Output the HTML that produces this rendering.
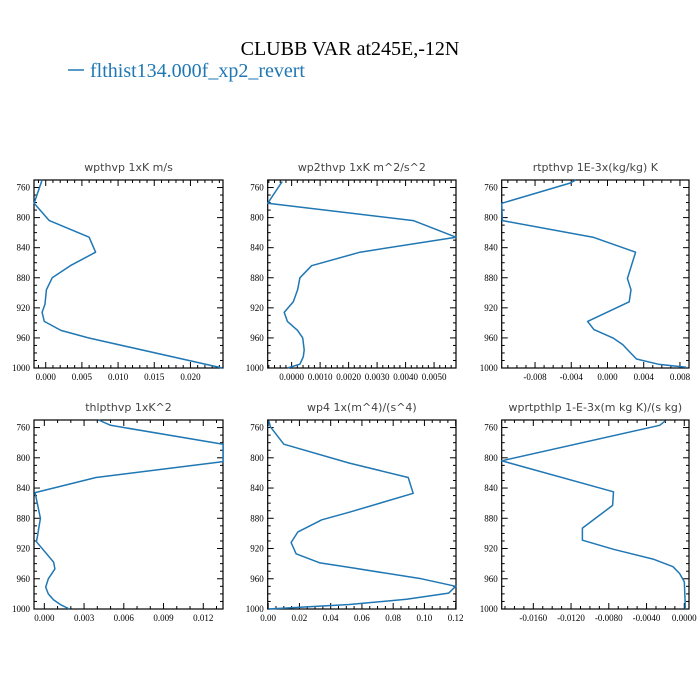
<!DOCTYPE html>
<html><head><meta charset="utf-8"><style>
html,body{margin:0;padding:0;background:#fff;}
svg{display:block;}
.tl{font-family:"Liberation Serif",serif;font-size:9px;fill:#000;}
.pt{font-family:"DejaVu Sans","Liberation Sans",sans-serif;font-size:11px;fill:#444;}
</style></head><body>
<svg id="chart" width="700" height="700" viewBox="0 0 700 700">
<text x="350" y="55" text-anchor="middle" style="font-family:'Liberation Serif',serif;font-size:20px">CLUBB VAR at245E,-12N</text>
<g>
<line x1="68" y1="70" x2="84" y2="70" stroke="#1f77b4" stroke-width="1.5"/>
<text x="90" y="77" style="font-family:'Liberation Serif',serif;font-size:20px;fill:#1f77b4">flthist134.000f_xp2_revert</text>
</g>
</svg>
<script>
// panel data (pressure levels in hPa, values in x units)
const p1Levels=[750,781,804,826,846,864,880,896,915,926,938,950,960,1000];
const p1Values=[-0.0005,-0.0016,0.0005,0.006,0.0069,0.0034,0.0009,0.0001,-0.0001,-0.0005,-0.0002,0.0021,0.0059,0.0244];
const p2Levels=[752,781,804,826,846,864,880,896,912,926,938,950,960,976,985,995,1000];
const p2Values=[-0.00033,-0.00084,0.00427,0.00577,0.0024,0.0007,0.00029,0.00021,0.00006,-0.00026,-0.00015,0.00021,0.00039,0.00044,0.00041,0.00029,-0.00015];
const p3Levels=[750,754,781,804,826,846,881,896,912,938,949,960,969,978,988,995,999];
const p3Values=[-0.0035,-0.0041,-0.01168,-0.0116,-0.0016,0.0031,0.0022,0.0026,0.0024,-0.0022,-0.0015,0.0006,0.0017,0.0024,0.0032,0.0056,0.0087];
const p4Levels=[750,757,782,805,826,846,880,902,911,938,947,960,971,980,988,995,1000];
const p4Values=[0.0041,0.005,0.0135,0.0135,0.0039,-0.0007,-0.0003,-0.0005,-0.0006,0.0007,0.0008,0.0003,0.0001,0.0003,0.0007,0.0013,0.0019];
const p5Levels=[751,759,782,807,826,847,872,882,898,912,927,939,945,960,970,979,987,994,1000];
const p5Values=[0.0004,0.0014,0.01,0.052,0.0896,0.0928,0.052,0.0343,0.019,0.0147,0.0179,0.0332,0.052,0.0981,0.12,0.1155,0.0885,0.052,0.0002];
const p6Levels=[751,757,804,845,863,893,909,921,934,944,953,964,993,1000];
const p6Values=[-0.002,-0.0026,-0.01935,-0.0075,-0.0076,-0.0108,-0.0108,-0.0075,-0.0033,-0.0012,-0.0005,0,0.0001,0.0001];
const p1Ticks=["0.000","0.005","0.010","0.015","0.020"];
const p2Ticks=["0.0000","0.0010","0.0020","0.0030","0.0040","0.0050"];
const p3Ticks=["-0.008","-0.004","0.000","0.004","0.008"];
const p4Ticks=["0.000","0.003","0.006","0.009","0.012"];
const p5Ticks=["0.00","0.02","0.04","0.06","0.08","0.10","0.12"];
const p6Ticks=["-0.0160","-0.0120","-0.0080","-0.0040","0.0000"];
const yTicks=[760,800,840,880,920,960,1000];

const panels=[
 {name:"wpthvp",title:"wpthvp  1xK m/s",x0:34,x1:223,y0:180,y1:368,xmin:-0.00162,xmax:0.0245,minor:0.001,lv:p1Levels,vals:p1Values,ticks:p1Ticks},
 {name:"wp2thvp",title:"wp2thvp  1xK m^2/s^2",x0:267.7,x1:456,y0:180,y1:368,xmin:-0.00084,xmax:0.00577,minor:0.0002,lv:p2Levels,vals:p2Values,ticks:p2Ticks},
 {name:"rtpthvp",title:"rtpthvp  1E-3x(kg/kg) K",x0:501.7,x1:689,y0:180,y1:368,xmin:-0.01168,xmax:0.009,minor:0.001,lv:p3Levels,vals:p3Values,ticks:p3Ticks},
 {name:"thlpthvp",title:"thlpthvp  1xK^2",x0:34,x1:223,y0:420,y1:609,xmin:-0.00078,xmax:0.01349,minor:0.001,lv:p4Levels,vals:p4Values,ticks:p4Ticks},
 {name:"wp4",title:"wp4  1x(m^4)/(s^4)",x0:267.7,x1:456,y0:420,y1:609,xmin:-0.0003,xmax:0.1202,minor:0.005,lv:p5Levels,vals:p5Values,ticks:p5Ticks},
 {name:"wprtpthlp",title:"wprtpthlp  1-E-3x(m kg K)/(s kg)",x0:501.7,x1:689,y0:420,y1:609,xmin:-0.01935,xmax:0.0005,minor:0.001,lv:p6Levels,vals:p6Values,ticks:p6Ticks}
];
const NS="http://www.w3.org/2000/svg";
const svg=document.getElementById('chart');
function mk(t,a,parent){const e=document.createElementNS(NS,t);for(const k in a)e.setAttribute(k,a[k]);parent.appendChild(e);return e;}
panels.forEach(P=>{
 const g=mk('g',{},svg);
 
 
 const xs=v=>P.x0+(v-P.xmin)/(P.xmax-P.xmin)*(P.x1-P.x0);
 const ys=p=>P.y0+(p-750)/250*(P.y1-P.y0);
 const t=mk('text',{x:(P.x0+P.x1)/2,y:P.y0-9,'text-anchor':'middle',class:'pt'},g);
 t.textContent=P.title;
 
 
 // y ticks
 for(let p=750;p<=1000;p+=10){
  const y=ys(p),major=(p-760)%40===0;
  const L=major?6:3;
  mk('line',{x1:P.x0,y1:y,x2:P.x0+L,y2:y,stroke:'#000','stroke-width':1},g);
  mk('line',{x1:P.x1,y1:y,x2:P.x1-L,y2:y,stroke:'#000','stroke-width':1},g);
 }
 yTicks.forEach(p=>{
  const tx=mk('text',{x:P.x0-4,y:ys(p)+3,'text-anchor':'end',class:'tl'},g);
  tx.textContent=p;
  
  
 });
 // x ticks
 const start=Math.ceil(P.xmin/P.minor-1e-6);
 for(let i=start;i*P.minor<=P.xmax+1e-9;i++){
  const v=i*P.minor,x=xs(v);
  const isMajor=P.ticks.some(s=>Math.abs(parseFloat(s)-v)<P.minor*0.01);
  const L=isMajor?6:3;
  mk('line',{x1:x,y1:P.y1,x2:x,y2:P.y1-L,stroke:'#000','stroke-width':1},g);
  mk('line',{x1:x,y1:P.y0,x2:x,y2:P.y0+L,stroke:'#000','stroke-width':1},g);
 }
 P.ticks.forEach(s=>{
  const tx=mk('text',{x:xs(parseFloat(s)),y:P.y1+12,'text-anchor':'middle',class:'tl'},g);
  tx.textContent=s;
  
  
 });
 const fr=mk('rect',{x:P.x0,y:P.y0,width:P.x1-P.x0,height:P.y1-P.y0,fill:'none',stroke:'#000','stroke-width':1.2},g);
 
 
 const pts=P.lv.map((p,i)=>xs(P.vals[i]).toFixed(1)+','+ys(p).toFixed(1)).join(' ');
 const ln=mk('polyline',{points:pts,fill:'none',stroke:'#1f77b4','stroke-width':1.5,'stroke-linejoin':'round'},g);
 
 
});
</script>
</body></html>
